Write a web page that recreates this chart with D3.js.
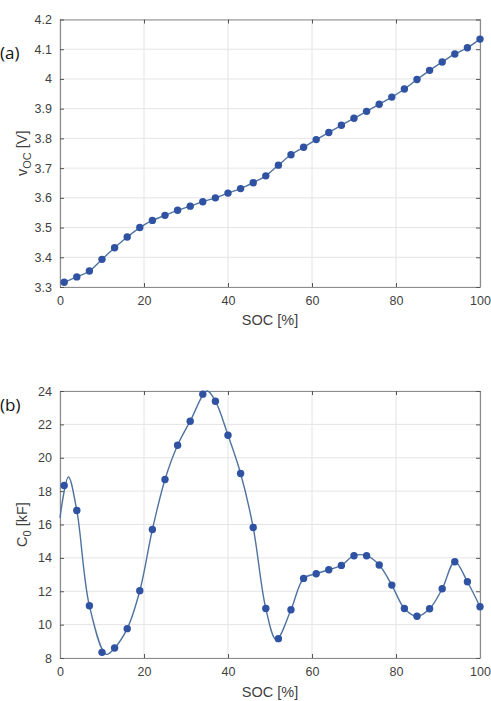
<!DOCTYPE html>
<html>
<head>
<meta charset="utf-8">
<script src="https://cdn.jsdelivr.net/npm/d3@7"></script>
<style>
  body { margin: 0; background: #fff; }
  svg { display: block; font-family: "Liberation Sans", Arial, sans-serif; }
</style>
</head>
<body>
<div id="chartDiv"></div>
<script>
// marker SOC positions (same for both panels)
var socPoints = [1, 4, 7, 10, 13, 16, 19, 22, 25, 28, 31, 34, 37, 40, 43, 46, 49,
                 52, 55, 58, 61, 64, 67, 70, 73, 76, 79, 82, 85, 88, 91, 94, 97, 100];
// (a) open circuit voltage
var vocValues = [3.316, 3.334, 3.354, 3.393, 3.432, 3.468, 3.500, 3.524, 3.541, 3.558, 3.572,
                 3.587, 3.600, 3.616, 3.631, 3.651, 3.674, 3.710, 3.745, 3.770, 3.796, 3.820,
                 3.844, 3.868, 3.891, 3.915, 3.939, 3.966, 3.998, 4.029, 4.057, 4.084, 4.105, 4.134];
// (b) capacitance markers
var c0Values = [18.34, 16.84, 11.13, 8.34, 8.60, 9.76, 12.03, 15.70, 18.70, 20.75, 22.19,
                23.81, 23.39, 21.35, 19.06, 15.82, 10.97, 9.16, 10.89, 12.77, 13.05, 13.29,
                13.55, 14.13, 14.13, 13.57, 12.37, 10.97, 10.50, 10.95, 12.15, 13.77, 12.57, 11.07];
// (b) fitted curve
var c0LineSoc = [0, 2, 4, 7, 11, 13, 16, 19, 22, 25, 28, 31, 35, 37, 40, 43, 46, 49,
                 51.5, 55, 58, 61, 64, 67, 70, 73, 76, 79, 82, 85, 88, 91, 94, 97, 100];
var c0LineVal = [16.4, 18.85, 16.84, 11.13, 8.22, 8.60, 9.76, 12.03, 15.70, 18.70, 20.75, 22.19,
                 24.0, 23.39, 21.35, 19.06, 15.82, 10.97, 9.1, 10.89, 12.77, 13.05, 13.29,
                 13.55, 14.13, 14.13, 13.57, 12.37, 10.97, 10.50, 10.95, 12.15, 13.77, 12.57, 11.07];

var xTicks = [0, 20, 40, 60, 80, 100];
var vocTicks = [3.3, 3.4, 3.5, 3.6, 3.7, 3.8, 3.9, 4, 4.1, 4.2];
var c0Ticks = [8, 10, 12, 14, 16, 18, 20, 22, 24];

var W = 491, H = 701;
var svg = d3.select("#chartDiv").append("svg")
            .attr("width", W)
            .attr("height", H);

function drawPanel(opt) {
  var g = svg.append("g");
  var x = d3.scaleLinear().domain([0, 100]).range([60, 480]);
  var y = d3.scaleLinear().domain(opt.yDomain).range([opt.bottom, opt.top]);

  // grid
  g.selectAll(".gx").data(xTicks).enter().append("line")
   .attr("x1", function(d){ return x(d); }).attr("x2", function(d){ return x(d); })
   .attr("y1", opt.top).attr("y2", opt.bottom)
   .attr("stroke", "#e4e4e4").attr("stroke-width", 1);
  g.selectAll(".gy").data(opt.yTicks).enter().append("line")
   .attr("x1", 60).attr("x2", 480)
   .attr("y1", function(d){ return y(d); }).attr("y2", function(d){ return y(d); })
   .attr("stroke", "#e4e4e4").attr("stroke-width", 1);

  // axes with inward ticks, MATLAB style box
  var fmt = opt.fmt;
  var ax = g.append("g").attr("transform", "translate(0," + opt.bottom + ")")
            .call(d3.axisBottom(x).tickValues(xTicks).tickSizeInner(-4).tickSizeOuter(0).tickPadding(9));
  var axTop = g.append("g").attr("transform", "translate(0," + opt.top + ")")
            .call(d3.axisTop(x).tickValues(xTicks).tickSizeInner(-4).tickSizeOuter(0).tickFormat(""));
  var ay = g.append("g").attr("transform", "translate(60,0)")
            .call(d3.axisLeft(y).tickValues(opt.yTicks).tickSizeInner(-4).tickSizeOuter(0).tickPadding(8).tickFormat(fmt));
  var ayR = g.append("g").attr("transform", "translate(480,0)")
            .call(d3.axisRight(y).tickValues(opt.yTicks).tickSizeInner(-4).tickSizeOuter(0).tickFormat(""));
  [ax, axTop, ay, ayR].forEach(function(a){
    a.select(".domain").attr("stroke", "#8c8c8c").attr("stroke-width", 1.2);
    a.selectAll(".tick line").attr("stroke", "#555").attr("stroke-width", 1);
    a.selectAll(".tick text").attr("fill", "#3f3f3f").style("font-size", "12.5px")
     .style("font-family", "Liberation Sans, Arial, sans-serif");
  });

  // line
  var pts = d3.zip(opt.lineX, opt.lineY);
  g.append("path").datum(pts)
   .attr("fill", "none")
   .attr("stroke", "#4f73a0")
   .attr("stroke-width", 1.4)
   .attr("d", d3.line().x(function(d){ return x(d[0]); }).y(function(d){ return y(d[1]); })
                .curve(opt.curve));

  // markers
  g.selectAll(".pt").data(d3.zip(socPoints, opt.values)).enter().append("circle")
   .attr("cx", function(d){ return x(d[0]); })
   .attr("cy", function(d){ return y(d[1]); })
   .attr("r", 3.7)
   .attr("fill", "#2f52a3");

  // x label
  g.append("text").attr("x", 270).attr("y", opt.bottom + opt.xLabelOff)
   .attr("text-anchor", "middle").attr("fill", "#3f3f3f").style("font-size", "14.5px")
   .text("SOC [%]");

  // y label with subscript
  var yl = g.append("text")
   .attr("transform", "translate(" + opt.yLabelX + "," + ((opt.top + opt.bottom) / 2) + ") rotate(-90)")
   .attr("text-anchor", "middle").attr("fill", "#3f3f3f").style("font-size", "14.5px");
  yl.append("tspan").text(opt.yMain);
  yl.append("tspan").attr("dy", 4).style("font-size", "11px").text(opt.ySub);
  yl.append("tspan").attr("dy", -4).text(" " + opt.yUnit);

  // panel tag
  svg.append("text").attr("x", 0).attr("y", opt.tagY)
   .attr("fill", "#111").style("font-size", "17px")
   .style("font-family", "Open Sans, Liberation Sans, sans-serif")
   .text(opt.tag);
}

drawPanel({
  top: 19.5, bottom: 287, yDomain: [3.3, 4.2], yTicks: vocTicks,
  fmt: d3.format("~g"),
  lineX: socPoints, lineY: vocValues, values: vocValues,
  curve: d3.curveMonotoneX,
  xLabelOff: 38, yLabelX: 27,
  yMain: "v", ySub: "OC", yUnit: "[V]",
  tag: "(a)", tagY: 59
});

drawPanel({
  top: 391, bottom: 658, yDomain: [8, 24], yTicks: c0Ticks,
  fmt: d3.format("d"),
  lineX: c0LineSoc, lineY: c0LineVal, values: c0Values,
  curve: d3.curveCatmullRom.alpha(0.5),
  xLabelOff: 39, yLabelX: 27,
  yMain: "C", ySub: "0", yUnit: "[kF]",
  tag: "(b)", tagY: 411
});
</script>
</body>
</html>
